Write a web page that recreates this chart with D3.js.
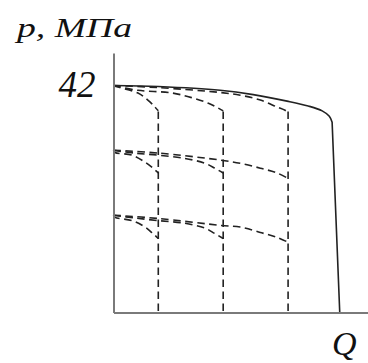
<!DOCTYPE html>
<html>
<head>
<meta charset="utf-8">
<script src="https://cdn.jsdelivr.net/npm/d3@7"></script>
<style>
  html, body { margin: 0; padding: 0; background: #fff; }
  svg { display: block; }
</style>
</head>
<body>
<svg id="chart" width="368" height="363"></svg>
<script>
// Pump pressure–flow characteristic: envelope curve and regulated branches.
const pressureTicks = [42];
const pressureLevels = [42, 30, 18];
const cutoffFlows = [17.6, 43.1, 68.6];

// Envelope (maximum flow) curve, Q in relative units, p in MPa
const envelopeCurve = [[0, 42], [17.6, 41.8], [41.9, 41.1], [54.9, 40.3], [68.2, 39.1], [76.5, 38.2], [82.0, 37.3], [84.8, 36.3], [85.9, 35.2]];
const envelopeDropFlow = 88.9;

// Branches from each pressure level toward each cut-off flow
const branches42 = [
  [[0, 42], [1.8, 41.7], [9.6, 40.6], [13.5, 39.3], [16.3, 38.0], [17.6, 37.3]],
  [[0, 42], [9.6, 41.1], [23.1, 40.6], [31.0, 39.7], [37.3, 38.7], [41.2, 37.8], [43.1, 37.3]],
  [[0, 42], [17.6, 41.6], [41.9, 40.7], [49.8, 40.2], [57.7, 39.3], [64.3, 38.0], [67.4, 37.4], [68.6, 37.0]]
];
const branches30 = [
  [[0, 30], [0.6, 29.6], [7.3, 29.1], [12.4, 27.8], [15.5, 26.7], [17.6, 25.8]],
  [[0, 30], [8.0, 29.5], [17.5, 29.1], [28.1, 28.5], [36.0, 27.6], [39.8, 26.7], [43.1, 25.8]],
  [[0, 30], [17.5, 29.5], [41.9, 28.2], [49.8, 27.6], [57.7, 26.7], [64.3, 25.8], [68.6, 24.8]]
];
const branches18 = [
  [[0, 18], [0.6, 17.6], [7.3, 17.0], [12.4, 15.8], [15.5, 14.6], [17.6, 13.7]],
  [[0, 18], [8.0, 17.5], [17.5, 17.0], [28.1, 16.5], [36.0, 15.6], [39.8, 14.6], [43.1, 13.7]],
  [[0, 18], [17.5, 17.4], [42.3, 16.1], [49.8, 15.8], [57.7, 14.8], [64.3, 13.9], [68.6, 13.0]]
];
const cutoffTopPressure = 37.2;

const svg = d3.select("#chart");
const x = d3.scaleLinear().domain([0, 100]).range([113.5, 368]);
const y = d3.scaleLinear().domain([0, 48]).range([312.5, 53]);

const curve = d3.line().x(d => x(d[0])).y(d => y(d[1])).curve(d3.curveCatmullRom.alpha(0.5));
const straight = d3.line().x(d => x(d[0])).y(d => y(d[1]));

const ink = "#222";
const dash = "7.5,4.5";

// Vertical cut-off lines
svg.append("g").selectAll("path")
  .data(cutoffFlows)
  .join("path")
  .attr("d", q => straight([[q, cutoffTopPressure], [q, 0]]))
  .attr("fill", "none")
  .attr("stroke", ink)
  .attr("stroke-width", 1.6)
  .attr("stroke-dasharray", dash);

// Regulated branches
svg.append("g").selectAll("path")
  .data([...branches42, ...branches30, ...branches18])
  .join("path")
  .attr("d", curve)
  .attr("fill", "none")
  .attr("stroke", ink)
  .attr("stroke-width", 1.6)
  .attr("stroke-dasharray", dash);

// Envelope curve with its drop to zero pressure
svg.append("path")
  .attr("d", curve(envelopeCurve) + "L" + x(envelopeDropFlow) + "," + y(0))
  .attr("fill", "none")
  .attr("stroke", ink)
  .attr("stroke-width", 1.6);

// Axes
const axisColor = "#7a7a7a";
const yAxis = svg.append("g")
  .attr("transform", `translate(${x(0)},0)`)
  .call(d3.axisLeft(y).tickValues(pressureTicks).tickSize(0).tickSizeOuter(0).tickPadding(18));
yAxis.select(".domain").attr("stroke", axisColor).attr("stroke-width", 2);
yAxis.selectAll(".tick text")
  .attr("font-family", "'Liberation Serif', 'DejaVu Serif', serif")
  .attr("font-style", "italic")
  .attr("font-size", 37)
  .attr("fill", "#111")
  .attr("dy", "0.3em");

const xAxis = svg.append("g")
  .attr("transform", `translate(0,${y(0)})`)
  .call(d3.axisBottom(x).tickValues([]).tickSizeOuter(0));
xAxis.select(".domain").attr("stroke", axisColor).attr("stroke-width", 2);

// Axis titles
svg.append("text")
  .attr("x", 17).attr("y", 37)
  .attr("font-family", "'Liberation Serif', 'DejaVu Serif', serif")
  .attr("font-style", "italic")
  .attr("font-size", 27)
  .attr("fill", "#111")
  .attr("textLength", 115)
  .attr("lengthAdjust", "spacingAndGlyphs")
  .text("p, МПа");

svg.append("text")
  .attr("x", 332).attr("y", 355)
  .attr("font-family", "'Liberation Serif', 'DejaVu Serif', serif")
  .attr("font-style", "italic")
  .attr("font-size", 34)
  .attr("fill", "#111")
  .text("Q");
</script>
</body>
</html>
